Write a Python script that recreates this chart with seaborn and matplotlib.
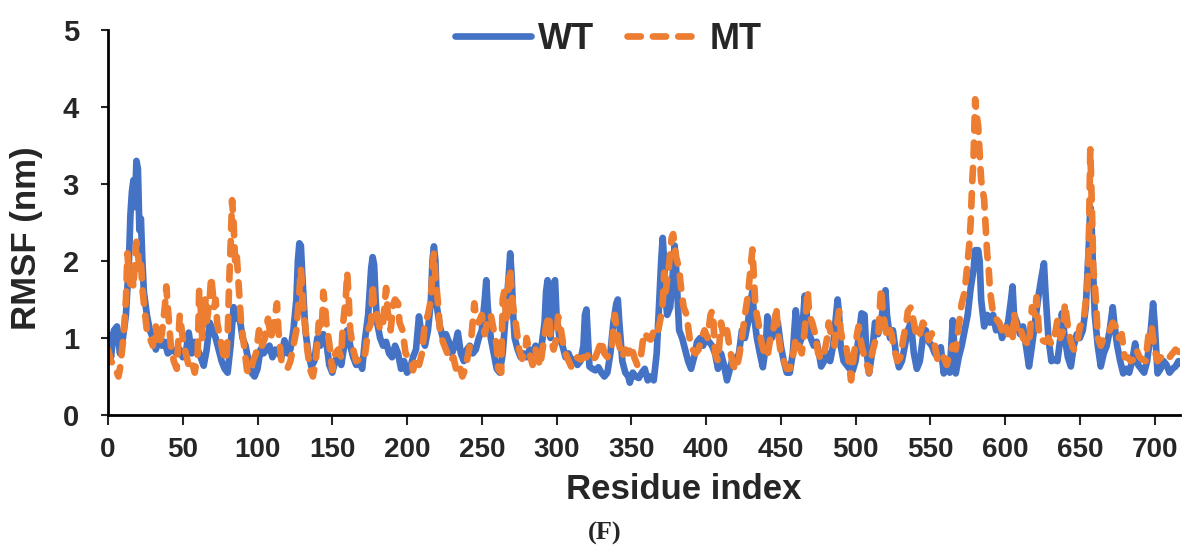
import numpy as np
import pandas as pd
import matplotlib
matplotlib.use("Agg")
import matplotlib.pyplot as plt
import seaborn as sns

# (residue, RMSF nm), WT
wt_points = [
    (0, 1.05), (2, 0.75), (4, 1.1), (6, 1.15), (8, 0.8), (10, 1.0), (12, 1.3), (14, 2.0), (15, 2.6),
    (16, 2.9), (17, 3.05), (18, 2.7), (19, 3.3), (20, 3.2), (21, 2.4), (22, 2.55), (23, 2.0), (24, 1.6),
    (26, 1.3), (28, 1.1), (30, 1.0), (32, 0.85), (34, 1.0), (36, 0.9), (38, 0.95), (40, 0.8), (43, 0.85),
    (46, 0.8), (48, 0.85), (50, 0.75), (52, 0.8), (54, 1.07), (56, 0.8), (58, 0.95), (60, 0.85), (62, 0.75),
    (64, 0.64), (66, 0.85), (68, 1.2), (70, 1.1), (72, 1.0), (74, 0.85), (76, 0.7), (78, 0.6), (80, 0.55),
    (82, 0.9), (84, 1.4), (86, 1.25), (88, 1.27), (90, 1.0), (92, 0.9), (94, 0.7), (96, 0.55), (98, 0.5),
    (100, 0.6), (102, 0.85), (104, 0.8), (106, 0.85), (108, 0.9), (110, 0.75), (112, 0.85), (114, 0.8),
    (116, 0.75), (118, 0.97), (120, 0.8), (122, 0.85), (124, 1.1), (126, 1.5), (127, 2.0), (128, 2.23),
    (129, 2.2), (130, 1.8), (131, 1.45), (132, 1.1), (134, 0.8), (136, 0.63), (138, 0.7), (140, 1.0),
    (142, 0.9), (144, 1.05), (146, 0.95), (148, 0.65), (150, 0.55), (152, 0.7), (154, 0.8), (156, 0.65),
    (158, 0.9), (160, 1.1), (162, 0.9), (164, 0.75), (166, 0.65), (168, 0.7), (170, 0.6), (172, 1.0),
    (174, 1.3), (176, 1.9), (177, 2.05), (178, 1.95), (179, 1.5), (180, 1.2), (182, 1.0), (184, 0.9),
    (186, 0.95), (188, 0.8), (190, 0.75), (192, 0.9), (194, 0.8), (196, 0.6), (198, 0.7), (200, 0.55),
    (202, 0.6), (204, 0.75), (206, 0.85), (208, 1.28), (210, 1.0), (212, 0.9), (214, 1.1), (216, 1.5),
    (217, 2.0), (218, 2.19), (219, 2.0), (220, 1.4), (222, 1.15), (224, 1.0), (226, 1.05), (228, 0.95),
    (230, 0.8), (232, 0.9), (234, 1.07), (236, 0.8), (238, 0.7), (240, 0.85), (242, 0.9), (244, 0.8),
    (246, 0.85), (248, 1.0), (250, 1.1), (252, 1.5), (253, 1.75), (254, 1.4), (256, 1.0), (258, 0.8),
    (260, 0.6), (262, 0.55), (264, 0.8), (266, 1.3), (268, 1.8), (269, 2.1), (270, 1.8), (271, 1.3),
    (272, 1.0), (274, 0.85), (276, 0.75), (278, 0.8), (280, 0.75), (282, 0.85), (284, 0.8), (286, 0.9),
    (288, 0.85), (290, 0.9), (292, 1.2), (293, 1.6), (294, 1.75), (295, 1.4), (296, 1.0), (297, 1.3),
    (298, 1.7), (299, 1.75), (300, 1.3), (302, 1.0), (304, 0.9), (306, 0.75), (308, 0.8), (310, 0.7),
    (312, 0.72), (314, 0.65), (316, 0.7), (318, 0.9), (319, 1.3), (320, 1.37), (321, 1.0), (322, 0.63),
    (324, 0.6), (326, 0.58), (328, 0.62), (330, 0.55), (332, 0.5), (334, 0.55), (336, 0.8), (338, 1.2),
    (340, 1.45), (341, 1.5), (342, 1.2), (344, 0.7), (346, 0.55), (348, 0.5), (349, 0.42), (351, 0.55),
    (353, 0.5), (355, 0.48), (357, 0.55), (359, 0.6), (361, 0.45), (363, 0.5), (365, 0.45), (367, 0.8),
    (368, 1.2), (369, 1.6), (370, 2.0), (371, 2.3), (372, 2.0), (373, 1.5), (374, 1.3), (376, 1.4),
    (378, 1.9), (379, 2.2), (380, 1.9), (381, 1.5), (382, 1.1), (384, 1.0), (386, 0.85), (388, 0.7),
    (390, 0.6), (392, 0.75), (394, 0.95), (396, 1.0), (398, 0.9), (400, 1.0), (402, 0.95), (404, 0.9),
    (406, 0.8), (408, 0.6), (410, 0.8), (412, 0.65), (414, 0.45), (416, 0.6), (418, 0.75), (420, 0.7),
    (422, 0.8), (424, 1.1), (426, 1.0), (428, 1.2), (430, 1.5), (431, 1.6), (432, 1.3), (434, 1.0),
    (436, 0.8), (438, 0.62), (440, 0.9), (441, 1.28), (442, 1.2), (444, 1.0), (446, 1.1), (448, 1.2),
    (450, 0.9), (452, 0.7), (454, 0.55), (456, 0.55), (458, 0.8), (460, 1.36), (461, 1.2), (462, 0.9),
    (464, 1.0), (466, 1.55), (467, 1.4), (468, 1.1), (470, 1.0), (472, 0.9), (474, 0.95), (476, 0.75),
    (477, 0.63), (479, 0.7), (481, 0.8), (483, 0.7), (485, 0.9), (487, 1.3), (488, 1.5), (489, 1.3),
    (490, 0.9), (492, 0.7), (494, 0.65), (496, 0.6), (498, 0.57), (500, 0.7), (502, 1.0), (504, 1.32),
    (506, 1.3), (507, 0.9), (509, 0.54), (511, 0.8), (513, 1.2), (515, 1.05), (517, 1.2), (519, 1.5),
    (520, 1.62), (521, 1.3), (523, 1.0), (525, 1.1), (527, 0.8), (529, 0.62), (531, 0.7), (533, 0.9),
    (535, 1.1), (537, 1.2), (539, 0.8), (541, 0.6), (543, 0.7), (545, 1.0), (547, 1.1), (549, 0.95),
    (551, 0.9), (553, 0.8), (555, 0.75), (557, 0.88), (559, 0.54), (561, 0.7), (563, 0.55), (565, 1.23),
    (567, 0.54), (569, 0.75), (571, 0.9), (573, 1.1), (575, 1.3), (577, 1.65), (579, 1.9), (580, 2.14),
    (582, 2.14), (583, 2.0), (584, 1.5), (586, 1.15), (588, 1.3), (590, 1.2), (592, 1.3), (594, 1.1),
    (596, 1.2), (598, 1.0), (600, 1.1), (602, 1.2), (604, 1.5), (605, 1.67), (606, 1.3), (608, 1.2),
    (610, 1.05), (612, 1.15), (614, 0.9), (616, 0.63), (618, 0.9), (620, 1.2), (622, 1.5), (624, 1.75),
    (626, 1.97), (627, 1.6), (629, 1.0), (631, 0.7), (633, 0.72), (635, 0.7), (637, 1.0), (638, 1.32),
    (640, 1.0), (642, 0.75), (644, 0.63), (646, 0.9), (648, 1.05), (650, 1.0), (652, 1.1), (654, 1.4),
    (656, 2.2), (657, 2.7), (658, 2.4), (659, 1.8), (660, 1.3), (662, 0.9), (664, 0.63), (666, 0.8),
    (668, 0.9), (670, 1.1), (672, 1.4), (673, 1.2), (675, 0.9), (677, 0.7), (679, 0.54), (681, 0.6),
    (683, 0.55), (685, 0.7), (687, 0.93), (689, 0.65), (691, 0.6), (693, 0.55), (695, 0.7), (697, 1.0),
    (699, 1.45), (700, 1.2), (702, 0.54), (704, 0.6), (706, 0.7), (708, 0.65), (710, 0.55), (712, 0.6),
    (714, 0.63), (716, 0.7), (717, 0.67),
]

# (residue, RMSF nm), MT
mt_points = [
    (0, 0.85), (2, 0.7), (4, 0.65), (6, 0.55), (7, 0.5), (8, 0.6), (10, 0.95), (11, 1.2), (12, 1.5),
    (13, 2.1), (14, 1.8), (15, 1.7), (16, 1.9), (17, 1.65), (18, 2.0), (19, 2.25), (20, 2.1), (21, 1.9),
    (22, 2.0), (23, 1.65), (24, 1.45), (26, 1.1), (28, 1.0), (30, 0.9), (32, 1.15), (34, 0.9), (36, 1.05),
    (38, 1.4), (39, 1.67), (40, 1.4), (42, 0.9), (44, 0.7), (46, 0.6), (48, 1.3), (50, 1.0), (52, 0.8),
    (54, 0.64), (56, 0.7), (58, 0.55), (60, 0.8), (61, 1.63), (62, 1.4), (63, 1.0), (65, 1.5), (66, 1.2),
    (68, 1.5), (69, 1.8), (70, 1.6), (71, 1.4), (72, 1.5), (73, 1.2), (75, 1.0), (77, 0.8), (79, 0.7),
    (80, 1.0), (81, 1.7), (82, 2.2), (83, 2.79), (84, 2.5), (85, 2.0), (86, 2.1), (87, 1.8), (88, 1.5),
    (89, 1.2), (91, 0.9), (93, 0.58), (95, 0.54), (97, 0.7), (99, 0.8), (101, 1.1), (103, 0.9), (105, 1.0),
    (107, 1.25), (109, 1.0), (111, 1.2), (113, 1.45), (114, 1.1), (116, 0.7), (118, 0.65), (120, 0.6),
    (122, 0.7), (124, 0.9), (126, 1.1), (128, 1.6), (129, 1.9), (130, 1.6), (131, 1.3), (132, 1.15),
    (133, 0.9), (135, 0.6), (137, 0.5), (139, 0.7), (141, 1.2), (143, 1.1), (144, 1.6), (145, 1.45),
    (146, 1.2), (148, 0.93), (150, 0.58), (152, 0.8), (154, 0.85), (156, 0.75), (157, 1.15), (159, 1.5),
    (160, 1.85), (161, 1.5), (162, 1.1), (164, 0.85), (166, 0.7), (168, 0.72), (170, 0.7), (172, 0.8),
    (174, 1.1), (176, 1.2), (177, 1.7), (178, 1.4), (180, 1.3), (182, 1.1), (184, 1.2), (186, 1.65),
    (187, 1.35), (189, 1.1), (191, 1.45), (192, 1.5), (194, 1.45), (195, 1.2), (197, 1.1), (199, 0.8),
    (201, 0.75), (203, 0.7), (204, 0.58), (206, 0.75), (208, 0.65), (210, 0.8), (212, 1.2), (214, 1.3),
    (216, 1.5), (217, 1.9), (218, 2.1), (219, 1.8), (220, 1.6), (221, 1.4), (222, 1.1), (224, 0.95),
    (226, 0.85), (228, 0.75), (229, 0.7), (231, 0.75), (233, 0.58), (235, 0.65), (237, 0.5), (239, 0.6),
    (241, 0.8), (243, 1.0), (245, 1.45), (246, 1.3), (248, 1.2), (250, 1.3), (252, 1.05), (254, 1.25),
    (256, 1.3), (258, 1.1), (260, 0.9), (261, 0.6), (263, 0.55), (264, 1.5), (265, 1.6), (266, 1.35),
    (267, 1.2), (268, 1.75), (269, 1.9), (270, 1.6), (271, 1.4), (273, 1.15), (275, 0.85), (277, 0.73),
    (279, 0.8), (280, 1.0), (282, 0.8), (284, 0.65), (286, 0.85), (288, 0.7), (289, 0.63), (291, 0.9),
    (293, 1.15), (295, 1.3), (296, 1.0), (298, 0.85), (300, 1.0), (301, 1.28), (303, 1.1), (305, 0.85),
    (307, 0.75), (310, 0.62), (312, 0.7), (314, 0.75), (316, 0.72), (318, 0.75), (320, 0.75), (322, 0.8),
    (324, 0.72), (326, 0.75), (328, 0.85), (330, 0.97), (332, 0.8), (334, 0.75), (337, 0.9), (339, 1.3),
    (340, 1.15), (342, 0.9), (344, 0.75), (346, 0.85), (348, 0.8), (350, 0.9), (352, 0.75), (354, 0.65),
    (356, 0.7), (358, 1.0), (359, 1.07), (361, 1.0), (363, 0.98), (366, 1.15), (368, 1.1), (370, 1.3),
    (371, 1.45), (372, 1.85), (373, 1.6), (375, 1.9), (376, 2.1), (377, 2.3), (378, 2.35), (380, 2.05),
    (382, 1.9), (383, 1.7), (385, 1.4), (387, 1.3), (389, 1.0), (391, 0.85), (393, 0.8), (395, 0.85),
    (397, 1.0), (399, 1.1), (401, 1.0), (403, 1.3), (404, 1.35), (405, 1.2), (406, 0.8), (408, 0.7),
    (410, 1.2), (412, 1.0), (414, 1.1), (416, 0.85), (418, 0.65), (420, 0.58), (422, 0.75), (424, 1.0),
    (426, 1.3), (428, 1.55), (429, 1.75), (431, 2.15), (432, 1.8), (433, 1.4), (435, 1.2), (437, 0.95),
    (439, 0.8), (441, 0.75), (443, 1.0), (445, 1.1), (447, 1.4), (448, 1.1), (450, 0.8), (452, 0.7),
    (454, 0.6), (456, 0.6), (458, 0.75), (460, 1.0), (462, 0.9), (464, 0.8), (466, 1.1), (468, 1.62),
    (469, 1.3), (471, 1.2), (473, 1.05), (475, 0.8), (477, 0.72), (479, 0.8), (481, 1.0), (482, 1.2),
    (484, 1.0), (486, 0.9), (487, 1.1), (489, 1.35), (490, 1.1), (491, 1.0), (493, 0.95), (495, 0.75),
    (497, 0.45), (499, 0.8), (501, 1.05), (502, 1.15), (504, 0.9), (506, 0.75), (508, 0.63), (509, 0.55),
    (511, 0.8), (513, 0.95), (515, 0.97), (516, 1.3), (517, 1.65), (518, 1.4), (519, 1.25), (521, 1.0),
    (523, 1.1), (524, 1.05), (526, 0.85), (528, 0.7), (530, 0.75), (532, 1.0), (534, 1.2), (535, 1.35),
    (537, 1.4), (539, 1.2), (541, 1.0), (543, 1.05), (545, 1.2), (547, 1.15), (549, 0.97), (551, 1.06),
    (553, 0.9), (555, 0.7), (557, 0.68), (559, 0.75), (561, 0.65), (563, 0.8), (565, 0.9), (567, 0.85),
    (569, 1.15), (571, 1.45), (573, 1.6), (574, 1.8), (576, 2.2), (577, 2.5), (578, 3.0), (579, 3.4),
    (580, 4.1), (581, 3.9), (582, 3.75), (583, 3.4), (584, 3.05), (586, 2.8), (587, 2.45), (588, 2.1),
    (589, 1.9), (590, 1.6), (592, 1.32), (594, 1.25), (596, 1.2), (598, 1.1), (600, 1.2), (602, 1.05),
    (604, 1.1), (605, 0.97), (606, 1.32), (608, 1.1), (610, 1.15), (612, 1.0), (614, 0.95), (616, 0.9),
    (618, 1.4), (620, 1.3), (621, 1.53), (623, 1.0), (625, 0.97), (627, 0.95), (629, 1.0), (631, 0.92),
    (633, 1.0), (635, 1.23), (637, 1.0), (639, 1.1), (640, 1.45), (642, 1.15), (644, 0.95), (646, 0.85),
    (648, 0.9), (650, 1.15), (652, 1.2), (653, 1.3), (655, 1.65), (656, 2.2), (657, 3.45), (658, 2.75),
    (659, 1.9), (660, 1.7), (661, 1.4), (662, 1.0), (664, 0.9), (666, 1.0), (668, 1.05), (670, 1.1),
    (672, 1.2), (674, 1.15), (676, 1.0), (678, 1.05), (680, 0.75), (682, 0.75), (684, 0.7), (686, 0.72),
    (688, 0.84), (690, 0.75), (692, 0.72), (694, 0.7), (696, 1.05), (698, 1.15), (699, 1.0), (700, 0.85),
    (702, 0.7), (704, 0.75), (706, 0.72), (708, 0.7), (710, 0.75), (712, 0.8), (714, 0.85), (716, 0.82),
]

x_ticks = list(range(0, 701, 50))
y_ticks = [0, 1, 2, 3, 4, 5]

wt = pd.DataFrame(wt_points, columns=["Residue", "RMSF"])
mt = pd.DataFrame(mt_points, columns=["Residue", "RMSF"])

sns.set_style("white")
plt.rcParams["font.family"] = ["Liberation Sans", "DejaVu Sans"]

fig = plt.figure(figsize=(11.84, 5.49), dpi=100)
ax = fig.add_axes([108 / 1184, 134 / 549, 1072 / 1184, 385 / 549])

sns.lineplot(data=wt, x="Residue", y="RMSF", ax=ax, color="#4472C4", linewidth=4.8,
             estimator=None, label="WT", solid_capstyle="round", solid_joinstyle="round")
sns.lineplot(data=mt, x="Residue", y="RMSF", ax=ax, color="#ED7D31", linewidth=4.8,
             estimator=None, label="MT", dashes=False)
mt_line = ax.get_lines()[-1]
mt_line.set_dashes((2.0, 1.8))
mt_line.set_dash_capstyle("round")

ax.set_xlim(0, 717)
ax.set_ylim(0, 5)
ax.set_xticks(x_ticks)
ax.set_yticks(y_ticks)
ax.set_xticklabels([str(t) for t in x_ticks], fontsize=20, fontweight="bold")
ax.set_yticklabels([str(t) for t in y_ticks], fontsize=21, fontweight="bold")
ax.tick_params(axis="x", direction="out", length=7, width=1.5, pad=9, bottom=True)
ax.tick_params(axis="y", direction="out", length=5, width=1.5, pad=16, left=True)

for side in ["top", "right"]:
    ax.spines[side].set_visible(False)
for side in ["left", "bottom"]:
    ax.spines[side].set_color("black")
    ax.spines[side].set_linewidth(2)

ax.set_xlabel("Residue index", fontsize=25, fontweight="bold")
ax.set_ylabel("RMSF (nm)", fontsize=25, fontweight="bold")
ax.xaxis.set_label_coords((684 - 108) / 1072, -0.15)
ax.yaxis.set_label_coords(-0.061, 0.46)

handles, labels = ax.get_legend_handles_labels()
leg = ax.legend(handles, labels, loc="center", bbox_to_anchor=(0.514, 0.928),
                bbox_transform=fig.transFigure, ncol=2, frameon=False,
                handlelength=2.1, columnspacing=0.9, handletextpad=0.2,
                prop={"size": 26, "weight": "bold"})
leg.get_lines()[1].set_dashes((2.0, 1.8))
leg.get_lines()[1].set_dash_capstyle("round")

fig.text(0.511, 0.028, "(F)", ha="center", va="center", fontsize=19, fontweight="bold",
         family=["Liberation Serif", "DejaVu Serif"])

fig.savefig("out.png", dpi=100)
